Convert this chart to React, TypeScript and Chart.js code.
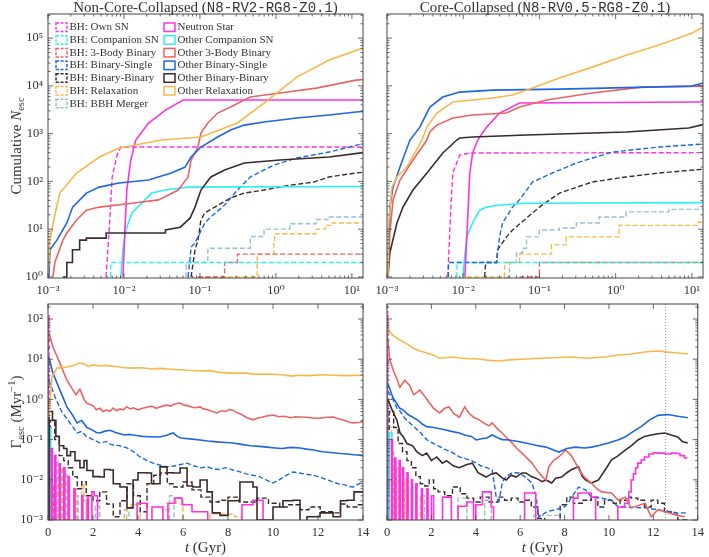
import { useEffect, useRef } from "react";
import { Chart, registerables } from "chart.js";

Chart.register(...registerables);

type Pt = [number, number];

const W = 709;
const H = 557;
const ZERO = 1e-5; // empty bin, drops below a log axis

const MAGENTA = "#FF33DD";
const CYAN = "#2EEFEF";
const RED = "#EB6464";
const BLUE = "#1E66E2";
const DARK = "#3C2A2A";
const ORANGE = "#F6B94C";
const GREYBLUE = "#98C0CE";
const TEXT = "#333333";
const AXIS = "#444444";
const SERIF = '"Liberation Serif", "DejaVu Serif", serif';
const MONO = '"Liberation Mono", "DejaVu Sans Mono", monospace';

// ---------- cumulative escapers, non-core-collapsed (t [Gyr], N) ----------
const NCC_CUM_BH_OWN: Pt[] = [[0.0058, 1], [0.0064, 10], [0.007, 124], [0.0081, 356], [0.0091, 525], [14, 525]];
const NCC_CUM_BH_COMP: Pt[] = [[0.0067, 1], [0.0067, 2], [14, 2]];
const NCC_CUM_BH_3B: Pt[] = [[0.094, 1], [0.211, 2], [0.312, 3], [14, 3]];
const NCC_CUM_BH_BS: Pt[] = [[0.0698, 1], [0.0741, 2.4], [0.0764, 4.2], [0.0861, 5.1], [0.0942, 6.9], [0.116, 13.5], [0.139, 18], [0.211, 32], [0.312, 66], [0.459, 124], [0.942, 220], [1.88, 309], [5.02, 412], [14, 620]];
const NCC_CUM_BH_BB: Pt[] = [[0.0764, 1], [0.0861, 3.7], [0.0942, 5.9], [0.103, 15.6], [0.116, 22], [0.157, 29], [0.253, 45], [0.384, 57], [0.698, 66], [1.52, 83], [3.12, 97], [5.02, 124], [11.3, 150], [14, 155]];
const NCC_CUM_BH_RELAX: Pt[] = [[0.094, 1], [0.566, 3], [0.94, 5], [0.96, 8], [3.4, 10], [4.5, 12], [5.5, 13.5], [14, 14]];
const NCC_CUM_BH_BBH: Pt[] = [[0.0658, 1], [0.0658, 2], [0.127, 4], [0.459, 7], [0.698, 10], [1.52, 13], [3.41, 16], [5.02, 18], [14, 19]];
const NCC_CUM_NS: Pt[] = [[0.0097, 1], [0.0103, 10], [0.0109, 66], [0.0123, 280], [0.0143, 735], [0.0211, 1670], [0.0351, 3120], [0.06, 5050], [14, 5050]];
const NCC_CUM_COMP: Pt[] = [[0.0091, 1], [0.0097, 3.8], [0.0106, 9.6], [0.0127, 22], [0.0171, 35], [0.0231, 57], [0.0351, 66], [0.0698, 76], [14, 78]];
const NCC_CUM_3B: Pt[] = [[0.00116, 1], [0.00123, 2], [0.00157, 5.9], [0.00177, 8.3], [0.00238, 15.6], [0.0032, 25], [0.00473, 29], [0.0127, 35], [0.0285, 41], [0.0518, 66], [0.0698, 124], [0.0764, 280], [0.0942, 525], [0.103, 1030], [0.127, 1670], [0.171, 2700], [0.253, 3600], [0.459, 5830], [1.13, 7070], [3.41, 8990], [11.3, 13200], [14, 13600]];
const NCC_CUM_BS: Pt[] = [[0.00103, 1], [0.00106, 3.7], [0.00131, 5.9], [0.00177, 13.5], [0.00211, 29], [0.0032, 57], [0.00473, 76], [0.0086, 93], [0.0211, 107], [0.042, 150], [0.0638, 200], [0.0764, 324], [0.103, 525], [0.171, 849], [0.253, 1190], [0.384, 1510], [0.698, 1750], [1.88, 2120], [5.02, 2450], [11.3, 2830], [14, 2900]];
const NCC_CUM_BB: Pt[] = [[0.00157, 1], [0.00177, 1], [0.00177, 2], [0.0021, 2], [0.0021, 3.7], [0.00261, 3.7], [0.00261, 5.9], [0.0032, 5.9], [0.0032, 6.5], [0.00583, 6.5], [0.00583, 8.3], [0.0351, 8.3], [0.0351, 9.6], [0.055, 11], [0.0741, 17], [0.0861, 29], [0.103, 66], [0.139, 124], [0.211, 173], [0.384, 243], [1.13, 280], [5.02, 324], [14, 400]];
const NCC_CUM_RELAX: Pt[] = [[0.001, 1], [0.00106, 5.9], [0.00123, 19.8], [0.00143, 57], [0.00238, 150], [0.00473, 324], [0.0086, 500], [0.0312, 735], [0.103, 849], [0.312, 1670], [0.698, 4370], [1.88, 15300], [5.02, 34700], [14, 62000]];

// ---------- cumulative escapers, core-collapsed ----------
const CC_CUM_BH_OWN: Pt[] = [[0.00627, 1], [0.00667, 9.6], [0.00708, 66], [0.0073, 150], [0.009, 356], [0.0122, 393], [14, 400]];
const CC_CUM_BH_COMP: Pt[] = [[0.0083, 1], [0.0083, 2], [14, 2]];
const CC_CUM_BH_3B: Pt[] = [[0.0548, 1], [0.1, 2], [14, 2]];
const CC_CUM_BH_BS: Pt[] = [[0.0064, 1], [0.0064, 2], [0.0274, 2], [0.0283, 3.2], [0.03, 6.9], [0.0328, 13.5], [0.0444, 29], [0.0548, 41], [0.081, 97], [0.148, 150], [0.305, 243], [0.9, 412], [3.7, 525], [14, 606]];
const CC_CUM_BH_BB: Pt[] = [[0.0191, 1], [0.0197, 2], [0.0274, 2], [0.0283, 3.7], [0.037, 6.9], [0.0444, 9.6], [0.0676, 17], [0.1, 29], [0.183, 57], [0.493, 97], [1.37, 124], [3.7, 150], [14, 180]];
const CC_CUM_BH_RELAX: Pt[] = [[0.0111, 1], [0.0349, 2], [0.055, 3], [0.144, 4.7], [0.225, 6.9], [1.11, 12], [12, 14], [14, 14]];
const CC_CUM_BH_BBH: Pt[] = [[0.037, 1], [0.0405, 2], [0.05, 3.2], [0.06, 4], [0.0676, 6.9], [0.1, 9.6], [0.183, 10.6], [0.305, 13.5], [0.608, 18], [1.37, 23], [5, 26], [14, 28]];
const CC_CUM_NS: Pt[] = [[0.0105, 1], [0.0111, 5.9], [0.0122, 150], [0.0133, 393], [0.0155, 735], [0.0203, 1370], [0.03, 2700], [0.0548, 4370], [14, 4590]];
const CC_CUM_COMP: Pt[] = [[0.00984, 1], [0.0111, 6.9], [0.0133, 13.5], [0.0164, 25], [0.0203, 29], [0.03, 32], [0.0676, 35], [14, 36]];
const CC_CUM_3B: Pt[] = [[0.00103, 1], [0.00109, 8.3], [0.0012, 41], [0.00148, 107], [0.00219, 280], [0.00334, 735], [0.00365, 1080], [0.00451, 1510], [0.0073, 2120], [0.0133, 2450], [0.037, 2700], [0.0548, 3600], [0.124, 5050], [0.493, 7070], [2.22, 9440], [14, 9900]];
const CC_CUM_BS: Pt[] = [[0.00103, 1], [0.00106, 5.9], [0.00109, 29], [0.0012, 76], [0.00148, 200], [0.002, 735], [0.0027, 1370], [0.00365, 3600], [0.0054, 5830], [0.009, 7420], [0.0243, 8170], [0.183, 8570], [10, 9900], [14, 11500]];
const CC_CUM_BB: Pt[] = [[0.00103, 1], [0.00109, 3.2], [0.00135, 13.5], [0.00162, 29], [0.00219, 66], [0.00334, 150], [0.0054, 393], [0.00822, 735], [0.009, 809], [0.0133, 849], [0.0676, 935], [1.37, 1080], [9.1, 1310], [14, 1550]];
const CC_CUM_RELAX: Pt[] = [[0.00103, 1], [0.00106, 15.6], [0.00116, 76], [0.00135, 124], [0.00182, 200], [0.00287, 735], [0.00334, 1370], [0.00451, 2700], [0.0073, 4590], [0.0243, 5560], [0.0444, 6430], [0.081, 8990], [0.183, 14600], [0.493, 24700], [1.37, 44000], [3.7, 71400], [10, 127000], [14, 170000]];

// ---------- escape rates, non-core-collapsed (t [Gyr], Myr^-1) ----------
const NCC_RATE_BH_OWN: Pt[] = [[0, 0], [0.005, 120], [0.05, 0], [14, 0]];
const NCC_RATE_BH_COMP: Pt[] = [[0, 0], [0.01, 5], [0.03, 0], [14, 0]];
const NCC_RATE_BH_3B: Pt[] = [[0, 0], [0.08, 0.02], [0.1, 0], [0.2, 0.008], [0.25, 0], [14, 0]];
const NCC_RATE_BH_BS: Pt[] = [[0.04, 3], [0.3, 1.2], [0.6, 0.5], [1.0, 0.25], [1.29, 0.146], [1.5, 0.16], [1.7, 0.12], [2.0, 0.1], [2.31, 0.082], [2.6, 0.09], [2.8, 0.075], [3.2, 0.07], [3.51, 0.062], [3.8, 0.05], [4.09, 0.037], [4.4, 0.03], [4.67, 0.026], [5.0, 0.023], [5.29, 0.021], [5.6, 0.022], [5.9, 0.024], [6.18, 0.026], [6.5, 0.022], [6.8, 0.02], [7.07, 0.021], [7.3, 0.019], [7.6, 0.018], [7.9, 0.02], [8.22, 0.0175], [8.5, 0.016], [8.8, 0.014], [9.11, 0.013], [9.4, 0.012], [9.7, 0.0099], [10.0, 0.0083], [10.2, 0.0095], [10.4, 0.011], [10.6, 0.013], [10.89, 0.0156], [11.1, 0.015], [11.4, 0.014], [11.78, 0.013], [12.0, 0.012], [12.2, 0.011], [12.45, 0.0098], [12.67, 0.0088], [12.9, 0.008], [13.2, 0.0075], [13.4, 0.0068], [13.56, 0.0066], [13.87, 0.0083], [14, 0.009]];
const NCC_RATE_BH_BB: Pt[] = [[0, 0], [0.1, 0.3], [0.3, 0.1], [0.5, 0.04], [0.7, 0.03], [0.9, 0.02], [1.1, 0.012], [1.3, 0.006], [1.5, 0.009], [1.7, 0.004], [2.0, 0.003], [2.3, 0.005], [2.6, 0.0025], [2.9, 0.0012], [3.2, 0.003], [3.51, 0.008], [3.8, 0.004], [4.1, 0.0016], [4.4, 0.008], [4.7, 0.013], [5.0, 0.0148], [5.3, 0.008], [5.6, 0.0066], [6.0, 0.0088], [6.4, 0.0056], [6.8, 0.0037], [7.2, 0.0028], [7.6, 0.0031], [8.0, 0.0037], [8.5, 0.0028], [9.3, 0.0035], [9.8, 0.0026], [10.3, 0.0021], [10.7, 0.0024], [11.2, 0.0018], [11.6, 0.0021], [12.1, 0.0016], [12.7, 0.0015], [13.0, 0.0025], [13.3, 0.0021], [13.8, 0.0024], [14, 0.0024]];
const NCC_RATE_BH_RELAX: Pt[] = [[0, 0], [0.3, 0.03], [0.35, 0], [0.6, 0.02], [0.65, 0], [0.9, 0.01], [0.95, 0], [1.2, 0.006], [1.25, 0], [1.5, 0.008], [1.6, 0.003], [1.7, 0], [3.5, 0.002], [3.7, 0.0024], [4.1, 0], [5.1, 0.0018], [5.4, 0.0026], [5.7, 0.0035], [6.0, 0], [7.2, 0.0014], [8.3, 0.0012], [8.6, 0], [14, 0]];
const NCC_RATE_BH_BBH: Pt[] = [[0, 0], [0.4, 0.03], [0.45, 0], [0.8, 0.015], [0.85, 0], [1.3, 0.004], [1.35, 0], [1.7, 0.003], [1.75, 0], [2.1, 0.0022], [2.3, 0], [3.4, 0.0018], [3.6, 0], [5.4, 0.004], [5.6, 0], [14, 0]];
const NCC_RATE_NS: Pt[] = [[0, 0], [0.15, 0.06], [0.2, 0], [0.3, 0.04], [0.35, 0], [0.5, 0.025], [0.55, 0], [0.7, 0.02], [0.75, 0], [0.9, 0.012], [0.95, 0], [1.15, 0.006], [1.2, 0], [1.5, 0.004], [1.55, 0], [1.75, 0.0035], [1.8, 0], [1.95, 0.005], [2.05, 0.004], [2.2, 0], [3.96, 0.0026], [4.4, 0], [4.62, 0.0021], [5.11, 0], [5.33, 0.0026], [5.64, 0.0035], [5.96, 0.0024], [6.4, 0.0016], [7.1, 0], [8.62, 0.0024], [9.11, 0.0031], [9.56, 0], [14, 0]];
const NCC_RATE_COMP: Pt[] = [[0, 0], [0.05, 0.2], [0.12, 0], [14, 0]];
const NCC_RATE_3B: Pt[] = [[0.04, 45], [0.22, 20], [0.53, 8], [0.84, 3], [1.11, 1.7], [1.25, 1.3], [1.42, 1.8], [1.6, 1.0], [1.73, 0.8], [2.0, 0.7], [2.15, 0.55], [2.31, 0.6], [2.45, 0.5], [2.6, 0.55], [2.75, 0.5], [2.89, 0.61], [3.05, 0.52], [3.2, 0.58], [3.35, 0.55], [3.5, 0.66], [3.65, 0.58], [3.78, 0.62], [4.0, 0.55], [4.2, 0.6], [4.4, 0.64], [4.6, 0.68], [4.8, 0.6], [4.98, 0.65], [5.15, 0.7], [5.3, 0.72], [5.45, 0.68], [5.6, 0.76], [5.87, 0.81], [6.05, 0.72], [6.2, 0.7], [6.5, 0.62], [6.76, 0.65], [6.9, 0.58], [7.1, 0.55], [7.3, 0.5], [7.51, 0.46], [7.7, 0.52], [7.9, 0.5], [8.05, 0.56], [8.22, 0.54], [8.4, 0.47], [8.6, 0.42], [8.85, 0.35], [9.11, 0.31], [9.3, 0.34], [9.5, 0.36], [9.75, 0.39], [10.0, 0.41], [10.25, 0.37], [10.5, 0.38], [10.8, 0.35], [11.0, 0.37], [11.2, 0.365], [11.5, 0.36], [11.8, 0.34], [12.09, 0.34], [12.4, 0.36], [12.67, 0.365], [12.9, 0.33], [13.2, 0.3], [13.4, 0.27], [13.56, 0.26], [13.87, 0.27], [14, 0.28]];
const NCC_RATE_BS: Pt[] = [[0.04, 11], [0.22, 4.5], [0.53, 1.7], [0.84, 0.65], [1.1, 0.4], [1.29, 0.26], [1.5, 0.3], [1.73, 0.2], [2.0, 0.17], [2.15, 0.15], [2.31, 0.146], [2.5, 0.16], [2.76, 0.17], [3.0, 0.15], [3.2, 0.14], [3.4, 0.13], [3.6, 0.135], [3.78, 0.13], [4.0, 0.125], [4.2, 0.12], [4.5, 0.118], [4.98, 0.116], [5.3, 0.13], [5.56, 0.146], [5.75, 0.12], [5.9, 0.11], [6.3, 0.104], [6.76, 0.098], [7.1, 0.092], [7.5, 0.088], [7.9, 0.085], [8.22, 0.082], [8.6, 0.076], [9.0, 0.07], [9.4, 0.068], [9.73, 0.065], [10.1, 0.062], [10.4, 0.06], [10.8, 0.064], [11.2, 0.062], [11.5, 0.058], [11.8, 0.055], [12.2, 0.05], [12.67, 0.047], [13.0, 0.045], [13.3, 0.044], [13.6, 0.042], [13.87, 0.041], [14, 0.04]];
const NCC_RATE_BB: Pt[] = [[0, 0], [0.05, 0.5], [0.2, 0.3], [0.35, 0.12], [0.5, 0.07], [0.7, 0.06], [0.84, 0.04], [1.0, 0.05], [1.2, 0.03], [1.42, 0.02], [1.6, 0.03], [1.73, 0.017], [2.0, 0.012], [2.31, 0.0117], [2.5, 0.018], [2.76, 0.0175], [2.9, 0.008], [3.2, 0.0066], [3.51, 0.002], [3.78, 0.0099], [4.0, 0.015], [4.4, 0.0148], [4.6, 0.008], [4.98, 0.021], [5.29, 0.015], [5.56, 0.0148], [5.87, 0.0197], [6.18, 0.007], [6.44, 0.0066], [6.76, 0.0099], [7.07, 0.005], [7.3, 0.0015], [7.64, 0.0013], [8.0, 0.003], [8.22, 0.003], [8.53, 0.0088], [9.11, 0.0066], [9.29, 0.001], [9.6, 0.001], [10.0, 0.0021], [10.44, 0.003], [10.89, 0.0031], [11.2, 0.0009], [11.51, 0.0012], [12.09, 0.0015], [12.67, 0.0012], [13.0, 0.003], [13.29, 0.0031], [13.6, 0.005], [14, 0.005]];
const NCC_RATE_RELAX: Pt[] = [[0.04, 0.36], [0.18, 3.6], [0.4, 6.0], [0.84, 6.4], [1.1, 7.0], [1.42, 8.0], [1.6, 7.6], [1.8, 6.6], [2.0, 7.2], [2.31, 6.8], [2.6, 7.0], [3.0, 6.6], [3.3, 6.2], [3.78, 6.0], [4.2, 6.1], [4.6, 5.7], [5.0, 5.9], [5.29, 5.7], [6.0, 5.4], [6.76, 5.1], [7.2, 5.2], [7.6, 4.7], [8.22, 4.5], [8.8, 4.5], [9.2, 4.2], [9.73, 4.3], [10.4, 4.1], [10.8, 3.8], [11.2, 4.0], [11.6, 3.9], [12.2, 4.1], [12.67, 4.0], [13.2, 3.9], [14, 4.0]];

// ---------- escape rates, core-collapsed ----------
const CC_RATE_BH_OWN: Pt[] = [[0, 0], [0.005, 150], [0.04, 0], [14, 0]];
const CC_RATE_BH_COMP: Pt[] = [[0, 0], [0.01, 3], [0.03, 0], [14, 0]];
const CC_RATE_BH_3B: Pt[] = [[0, 0], [0.05, 0.05], [0.1, 0], [14, 0]];
const CC_RATE_BH_BS: Pt[] = [[0.04, 1.6], [0.27, 1.0], [0.45, 0.6], [0.6, 0.5], [0.8, 0.34], [1.03, 0.26], [1.25, 0.2], [1.5, 0.15], [1.65, 0.12], [1.79, 0.1], [2.0, 0.085], [2.3, 0.07], [2.5, 0.062], [2.68, 0.055], [3.0, 0.046], [3.26, 0.037], [3.5, 0.034], [3.8, 0.03], [4.02, 0.026], [4.25, 0.022], [4.5, 0.02], [4.74, 0.0175], [4.92, 0.0037], [5.05, 0.003], [5.2, 0.0088], [5.37, 0.012], [5.64, 0.015], [5.95, 0.0148], [6.2, 0.012], [6.53, 0.0083], [6.71, 0.004], [6.84, 0.0012], [7.2, 0.0016], [7.74, 0.0019], [8.05, 0.0022], [8.32, 0.0037], [8.63, 0.0066], [8.94, 0.0056], [9.21, 0.0037], [9.53, 0.0036], [10.11, 0.0031], [10.42, 0.0021], [11.63, 0.002], [12.21, 0.0018], [12.8, 0.0016], [13.1, 0.0015], [13.46, 0.0015]];
const CC_RATE_BH_BB: Pt[] = [[0, 0], [0.1, 0.5], [0.3, 0.2], [0.5, 0.08], [0.7, 0.05], [0.9, 0.03], [1.1, 0.02], [1.3, 0.012], [1.5, 0.008], [1.7, 0.007], [1.9, 0.0099], [2.1, 0.006], [2.3, 0.005], [2.6, 0.004], [2.95, 0.0066], [3.3, 0.0045], [3.6, 0.0035], [3.9, 0.0028], [4.2, 0.0037], [4.6, 0.0028], [5.0, 0.0037], [5.3, 0.0031], [5.6, 0.0035], [5.9, 0.0028], [6.2, 0.0031], [6.5, 0.0021], [6.8, 0.0011], [7.1, 0], [7.8, 0.0024], [8.1, 0.0037], [8.4, 0.0026], [8.8, 0.0031], [9.2, 0.0037], [9.5, 0.0021], [9.8, 0.0031], [10.2, 0.0026], [10.5, 0.0031], [10.8, 0.0037], [11.0, 0.0035], [11.3, 0.0031], [11.6, 0.0021], [11.9, 0.0031], [12.2, 0.0026], [12.5, 0.0016], [12.8, 0.0014], [13.1, 0.001], [13.5, 0]];
const CC_RATE_BH_RELAX: Pt[] = [[0, 0], [0.1, 0.2], [0.2, 0.05], [0.3, 0], [0.5, 0.02], [0.55, 0], [0.8, 0.01], [0.85, 0], [1.1, 0.006], [1.15, 0], [1.5, 0.004], [1.55, 0], [14, 0]];
const CC_RATE_BH_BBH: Pt[] = [[0, 0], [0.4, 0.02], [0.45, 0], [0.9, 0.008], [0.95, 0], [1.6, 0.004], [1.7, 0], [3.2, 0.0035], [3.6, 0], [4.4, 0.0031], [4.7, 0], [6.6, 0.0013], [7.8, 0], [14, 0]];
const CC_RATE_NS: Pt[] = [[0, 0], [0.2, 0.1], [0.25, 0], [0.35, 0.035], [0.4, 0], [0.55, 0.03], [0.6, 0], [0.7, 0.02], [0.75, 0], [0.9, 0.015], [0.95, 0], [1.1, 0.01], [1.15, 0], [1.3, 0.008], [1.35, 0], [1.55, 0.006], [1.6, 0], [1.8, 0.006], [1.85, 0], [2.0, 0.004], [2.1, 0], [2.5, 0.0037], [2.9, 0], [3.2, 0.0022], [3.6, 0.0028], [3.9, 0], [4.0, 0.0024], [4.3, 0.005], [4.7, 0.0021], [4.8, 0], [6.2, 0.0047], [6.7, 0], [8.4, 0.0035], [8.6, 0.0047], [9.2, 0.0037], [9.4, 0], [10.4, 0.0021], [10.7, 0.0026], [10.9, 0.005], [11.0, 0.0099], [11.1, 0.014], [11.2, 0.02], [11.3, 0.026], [11.45, 0.031], [11.6, 0.037], [11.8, 0.044], [12.0, 0.047], [12.2, 0.046], [12.5, 0.044], [12.8, 0.046], [13.0, 0.045], [13.2, 0.04], [13.4, 0.035], [13.5, 0.034]];
const CC_RATE_COMP: Pt[] = [[0, 0], [0.1, 0.15], [0.22, 0], [14, 0]];
const CC_RATE_3B: Pt[] = [[0.04, 30], [0.13, 9.5], [0.3, 5], [0.45, 3.2], [0.58, 2.0], [0.8, 3.0], [1.03, 2.2], [1.2, 1.3], [1.48, 1.7], [1.7, 1.2], [1.92, 0.8], [2.1, 0.6], [2.37, 0.46], [2.6, 0.6], [2.8, 0.65], [3.0, 0.45], [3.26, 0.36], [3.5, 0.65], [3.7, 0.45], [3.9, 0.36], [4.16, 0.31], [4.4, 0.25], [4.6, 0.22], [4.74, 0.26], [5.0, 0.18], [5.19, 0.146], [5.4, 0.11], [5.64, 0.082], [5.85, 0.06], [6.08, 0.046], [6.3, 0.035], [6.53, 0.026], [6.8, 0.016], [7.0, 0.012], [7.16, 0.0099], [7.29, 0.021], [7.5, 0.03], [7.74, 0.037], [8.05, 0.055], [8.3, 0.04], [8.5, 0.026], [8.7, 0.016], [8.94, 0.011], [9.21, 0.0083], [9.45, 0.006], [9.66, 0.005], [10.11, 0.0047], [10.42, 0.0031], [10.73, 0.0037], [11.0, 0.002], [11.63, 0.0026], [11.9, 0.0012], [12.21, 0.0018], [12.52, 0.0016], [13.1, 0.0013], [13.42, 0.0012]];
const CC_RATE_BS: Pt[] = [[0.04, 2.5], [0.27, 1.1], [0.58, 0.6], [0.72, 0.55], [0.95, 0.42], [1.16, 0.36], [1.4, 0.3], [1.6, 0.24], [1.79, 0.21], [2.1, 0.2], [2.5, 0.18], [2.9, 0.16], [3.26, 0.146], [3.5, 0.13], [3.8, 0.12], [4.02, 0.098], [4.25, 0.105], [4.5, 0.11], [4.74, 0.13], [5.0, 0.11], [5.2, 0.1], [5.5, 0.098], [5.9, 0.09], [6.26, 0.082], [6.7, 0.072], [7.16, 0.065], [7.5, 0.055], [7.74, 0.049], [8.1, 0.06], [8.5, 0.065], [8.9, 0.062], [9.21, 0.065], [9.6, 0.072], [9.97, 0.082], [10.4, 0.098], [10.73, 0.116], [11.1, 0.16], [11.45, 0.21], [11.8, 0.3], [12.21, 0.4], [12.66, 0.42], [13.1, 0.38], [13.55, 0.35]];
const CC_RATE_BB: Pt[] = [[0.04, 1.0], [0.2, 0.6], [0.45, 0.3], [0.58, 0.15], [0.72, 0.12], [0.9, 0.08], [1.16, 0.07], [1.34, 0.05], [1.6, 0.04], [1.79, 0.046], [2.0, 0.03], [2.24, 0.037], [2.5, 0.026], [2.68, 0.03], [3.0, 0.022], [3.26, 0.02], [3.6, 0.024], [3.85, 0.026], [4.1, 0.015], [4.47, 0.0117], [4.7, 0.014], [4.92, 0.0148], [5.2, 0.011], [5.37, 0.0099], [5.6, 0.013], [5.81, 0.0117], [6.08, 0.0148], [6.26, 0.0148], [6.5, 0.012], [6.71, 0.011], [7.0, 0.009], [7.16, 0.0099], [7.42, 0.0083], [7.6, 0.011], [7.87, 0.0117], [8.1, 0.015], [8.32, 0.018], [8.63, 0.021], [8.8, 0.012], [8.94, 0.0099], [9.21, 0.0083], [9.53, 0.0099], [9.84, 0.018], [10.11, 0.031], [10.42, 0.04], [10.73, 0.055], [11.0, 0.07], [11.31, 0.098], [11.6, 0.12], [11.9, 0.13], [12.21, 0.14], [12.52, 0.146], [12.8, 0.13], [13.1, 0.116], [13.3, 0.09], [13.55, 0.082]];
const CC_RATE_RELAX: Pt[] = [[0.04, 60], [0.13, 47], [0.3, 38], [0.58, 30], [0.9, 24], [1.16, 19], [1.5, 16], [1.79, 14.3], [2.1, 12.5], [2.37, 10.6], [2.7, 11], [3.0, 11.3], [3.26, 10.7], [3.6, 10.4], [4.16, 10.1], [4.5, 9.5], [5.05, 9], [5.5, 9.6], [6.26, 10.1], [7.16, 10.7], [7.8, 11], [8.32, 11.3], [8.9, 10.7], [9.21, 10.7], [9.8, 11.3], [10.42, 12.7], [11.0, 13.5], [11.31, 14.3], [11.8, 15.5], [12.21, 16], [12.66, 15], [13.1, 14.3], [13.55, 13.5]];

const CC_CORE_TIME = 12.55; // dotted marker in the lower right panel
const T_TICKS = [0, 2, 4, 6, 8, 10, 12, 14];

type Key = "bhOwn" | "bhComp" | "bh3b" | "bhBs" | "bhBb" | "bhRelax" | "bhBbh" | "ns" | "comp" | "tb" | "bs" | "bb" | "relax";

const SERIES: Record<Key, { label: string; color: string; dashed: boolean }> = {
  bhOwn: { label: "BH: Own SN", color: MAGENTA, dashed: true },
  bhComp: { label: "BH: Companion SN", color: CYAN, dashed: true },
  bh3b: { label: "BH: 3-Body Binary", color: RED, dashed: true },
  bhBs: { label: "BH: Binary-Single", color: BLUE, dashed: true },
  bhBb: { label: "BH: Binary-Binary", color: DARK, dashed: true },
  bhRelax: { label: "BH: Relaxation", color: ORANGE, dashed: true },
  bhBbh: { label: "BH: BBH Merger", color: GREYBLUE, dashed: true },
  ns: { label: "Neutron Star", color: MAGENTA, dashed: false },
  comp: { label: "Other Companion SN", color: CYAN, dashed: false },
  tb: { label: "Other 3-Body Binary", color: RED, dashed: false },
  bs: { label: "Other Binary-Single", color: BLUE, dashed: false },
  bb: { label: "Other Binary-Binary", color: DARK, dashed: false },
  relax: { label: "Other Relaxation", color: ORANGE, dashed: false },
};
const LEGEND_BH: Key[] = ["bhOwn", "bhComp", "bh3b", "bhBs", "bhBb", "bhRelax", "bhBbh"];
const LEGEND_OTHER: Key[] = ["ns", "comp", "tb", "bs", "bb", "relax"];
const DRAW_ORDER: Key[] = ["relax", "bs", "tb", "bb", "ns", "comp", "bhBs", "bhBb", "bhOwn", "bhComp", "bh3b", "bhRelax", "bhBbh"];

const NCC_CUM: Record<Key, Pt[]> = {
  bhOwn: NCC_CUM_BH_OWN, bhComp: NCC_CUM_BH_COMP, bh3b: NCC_CUM_BH_3B, bhBs: NCC_CUM_BH_BS, bhBb: NCC_CUM_BH_BB,
  bhRelax: NCC_CUM_BH_RELAX, bhBbh: NCC_CUM_BH_BBH, ns: NCC_CUM_NS, comp: NCC_CUM_COMP, tb: NCC_CUM_3B,
  bs: NCC_CUM_BS, bb: NCC_CUM_BB, relax: NCC_CUM_RELAX,
};
const CC_CUM: Record<Key, Pt[]> = {
  bhOwn: CC_CUM_BH_OWN, bhComp: CC_CUM_BH_COMP, bh3b: CC_CUM_BH_3B, bhBs: CC_CUM_BH_BS, bhBb: CC_CUM_BH_BB,
  bhRelax: CC_CUM_BH_RELAX, bhBbh: CC_CUM_BH_BBH, ns: CC_CUM_NS, comp: CC_CUM_COMP, tb: CC_CUM_3B,
  bs: CC_CUM_BS, bb: CC_CUM_BB, relax: CC_CUM_RELAX,
};
const NCC_RATE: Record<Key, Pt[]> = {
  bhOwn: NCC_RATE_BH_OWN, bhComp: NCC_RATE_BH_COMP, bh3b: NCC_RATE_BH_3B, bhBs: NCC_RATE_BH_BS, bhBb: NCC_RATE_BH_BB,
  bhRelax: NCC_RATE_BH_RELAX, bhBbh: NCC_RATE_BH_BBH, ns: NCC_RATE_NS, comp: NCC_RATE_COMP, tb: NCC_RATE_3B,
  bs: NCC_RATE_BS, bb: NCC_RATE_BB, relax: NCC_RATE_RELAX,
};
const CC_RATE: Record<Key, Pt[]> = {
  bhOwn: CC_RATE_BH_OWN, bhComp: CC_RATE_BH_COMP, bh3b: CC_RATE_BH_3B, bhBs: CC_RATE_BH_BS, bhBb: CC_RATE_BH_BB,
  bhRelax: CC_RATE_BH_RELAX, bhBbh: CC_RATE_BH_BBH, ns: CC_RATE_NS, comp: CC_RATE_COMP, tb: CC_RATE_3B,
  bs: CC_RATE_BS, bb: CC_RATE_BB, relax: CC_RATE_RELAX,
};
const CUM_STEPPED: Key[] = ["bhComp", "bh3b", "bhRelax", "bhBbh"];
const NCC_RATE_STEPPED: Key[] = ["bhOwn", "bhComp", "bh3b", "bhBb", "bhRelax", "bhBbh", "ns", "comp", "bb"];
const CC_RATE_STEPPED: Key[] = ["bhOwn", "bhComp", "bh3b", "bhBb", "bhRelax", "bhBbh", "ns", "comp"];

// ---------- helpers ----------
type Run = { text: string; font: string; dy?: number };
const f = (size: number, family = SERIF, italic = false) => `${italic ? "italic " : ""}${size}px ${family}`;

const SUP: Record<string, string> = { "-": "⁻", "0": "⁰", "1": "¹", "2": "²", "3": "³", "4": "⁴", "5": "⁵" };
function decadeLabel(v: number) {
  const e = Math.round(Math.log10(v));
  if (Math.abs(v / Math.pow(10, e) - 1) > 1e-6) return "";
  return "10" + String(e).split("").map((c) => SUP[c]).join("");
}
function logTicks(min: number, max: number) {
  const out: { v: number; major: boolean }[] = [];
  for (let e = Math.floor(Math.log10(min)); e <= Math.ceil(Math.log10(max)); e++) {
    for (let m = 1; m <= 9; m++) {
      const v = m * Math.pow(10, e);
      if (v >= min * 0.9999 && v <= max * 1.0001) out.push({ v, major: m === 1 });
    }
  }
  return out;
}
function drawRuns(ctx: CanvasRenderingContext2D, runs: Run[], cx: number, y: number) {
  let w = 0;
  for (const r of runs) { ctx.font = r.font; w += ctx.measureText(r.text).width; }
  let x = cx - w / 2;
  for (const r of runs) {
    ctx.font = r.font;
    ctx.fillText(r.text, x, y + (r.dy || 0));
    x += ctx.measureText(r.text).width;
  }
}

type Decor = { title?: Run[]; yTitle?: Run[]; xTitle?: Run[]; legend?: boolean; vline?: number };

function decorPlugin(spec: Decor) {
  return {
    id: "decor",
    afterDraw(chart: any) {
      const ctx: CanvasRenderingContext2D = chart.ctx;
      const a = chart.chartArea;
      const xs = chart.scales.x;
      const ys = chart.scales.y;
      ctx.save();
      if (spec.vline !== undefined) {
        const px = xs.getPixelForValue(spec.vline);
        ctx.strokeStyle = "#777";
        ctx.lineWidth = 0.8;
        ctx.setLineDash([1, 2]);
        ctx.beginPath(); ctx.moveTo(px, a.top); ctx.lineTo(px, a.bottom); ctx.stroke();
        ctx.setLineDash([]);
      }
      ctx.strokeStyle = AXIS;
      ctx.lineWidth = 0.8;
      const xt = xs.type === "logarithmic" ? logTicks(xs.min, xs.max) : T_TICKS.map((v) => ({ v, major: true }));
      ctx.beginPath();
      for (const t of xt) {
        const p = xs.getPixelForValue(t.v);
        const L = t.major ? 5 : 2.5;
        ctx.moveTo(p, a.bottom); ctx.lineTo(p, a.bottom - L);
        ctx.moveTo(p, a.top); ctx.lineTo(p, a.top + L);
      }
      for (const t of logTicks(ys.min, ys.max)) {
        const p = ys.getPixelForValue(t.v);
        const L = t.major ? 5 : 2.5;
        ctx.moveTo(a.left, p); ctx.lineTo(a.left + L, p);
        ctx.moveTo(a.right, p); ctx.lineTo(a.right - L, p);
      }
      ctx.stroke();
      ctx.lineWidth = 1;
      ctx.strokeRect(a.left, a.top, a.right - a.left, a.bottom - a.top);

      ctx.fillStyle = TEXT;
      ctx.textBaseline = "alphabetic";
      ctx.textAlign = "left";
      const cx = (a.left + a.right) / 2;
      if (spec.title) drawRuns(ctx, spec.title, cx, 12);
      if (spec.xTitle) drawRuns(ctx, spec.xTitle, cx, 552);
      if (spec.yTitle) {
        ctx.save();
        ctx.translate(16, (a.top + a.bottom) / 2);
        ctx.rotate(-Math.PI / 2);
        drawRuns(ctx, spec.yTitle, 0, 5);
        ctx.restore();
      }
      if (spec.legend) {
        const cols: [Key[], number][] = [[LEGEND_BH, 56], [LEGEND_OTHER, 164]];
        for (const [keys, x0] of cols) {
          keys.forEach((k, i) => {
            const s = SERIES[k];
            const y = 27 + i * 12.7;
            ctx.strokeStyle = s.color;
            ctx.lineWidth = 1.5;
            ctx.setLineDash(s.dashed ? [3, 1.6] : []);
            ctx.strokeRect(x0, y - 4, 11, 8.5);
            ctx.setLineDash([]);
            ctx.fillStyle = TEXT;
            ctx.font = f(11);
            ctx.textBaseline = "middle";
            ctx.fillText(s.label, x0 + 13.5, y + 0.5);
          });
        }
      }
      ctx.restore();
    },
  };
}

type Area = { left: number; top: number; right: number; bottom: number };
const Y_AXIS_W = 40;
const X_AXIS_H = 22;
const TICK_FONT = { family: SERIF, size: 12.5 };

function axis(kind: "log" | "lin", min: number, max: number, show: boolean) {
  return {
    type: kind === "log" ? "logarithmic" : "linear",
    min,
    max,
    display: show,
    afterBuildTicks: (s: any) => {
      s.ticks = kind === "log" ? logTicks(s.min, s.max).map((t) => ({ value: t.v })) : T_TICKS.map((v) => ({ value: v }));
    },
    afterFit: (s: any) => {
      if (!show) return;
      if (s.isHorizontal()) s.height = X_AXIS_H;
      else s.width = Y_AXIS_W;
    },
    grid: { display: false, drawTicks: false },
    border: { display: false },
    ticks: {
      autoSkip: false,
      maxRotation: 0,
      padding: 5,
      color: TEXT,
      font: TICK_FONT,
      callback: (v: any) => (kind === "log" ? decadeLabel(Number(v)) : String(v)),
    },
  };
}

function Panel(props: {
  area: Area;
  xKind: "log" | "lin";
  xRange: [number, number];
  yRange: [number, number];
  yLabels: boolean;
  data: Record<Key, Pt[]>;
  stepped: Key[];
  decor: Decor;
}) {
  const ref = useRef<HTMLCanvasElement>(null);
  useEffect(() => {
    if (!ref.current) return;
    const { area, xKind, xRange, yRange, yLabels, data, stepped, decor } = props;
    const yW = yLabels ? Y_AXIS_W : 0;
    const chart = new Chart(ref.current, {
      type: "line",
      data: {
        datasets: DRAW_ORDER.map((k) => {
          const s = SERIES[k];
          return {
            label: s.label,
            data: data[k].map(([x, y]) => ({ x, y: y > 0 ? y : ZERO })),
            borderColor: s.color,
            backgroundColor: s.color,
            borderWidth: s.dashed ? 1.4 : 1.6,
            borderDash: s.dashed ? [5, 2.5] : [],
            pointRadius: 0,
            tension: 0,
            fill: false,
            stepped: stepped.includes(k) ? "before" : false,
          };
        }),
      },
      options: {
        animation: false,
        responsive: false,
        events: [],
        layout: {
          padding: { left: area.left - yW, top: area.top, right: W - area.right, bottom: H - area.bottom - X_AXIS_H },
        },
        plugins: { legend: { display: false }, tooltip: { enabled: false } },
        scales: {
          x: axis(xKind, xRange[0], xRange[1], true),
          y: axis("log", yRange[0], yRange[1], yLabels),
        },
      } as any,
      plugins: [decorPlugin(decor)],
    } as any);
    return () => chart.destroy();
  }, []);
  return <canvas ref={ref} width={W} height={H} style={{ position: "absolute", left: 0, top: 0 }} />;
}

const CUM_Y: [number, number] = [0.95, 3.2e5];
const RATE_Y: [number, number] = [1e-3, 236];
const CUM_X: [number, number] = [1e-3, 14];
const RATE_X: [number, number] = [0, 14];

const Y_TITLE_CUM: Run[] = [
  { text: "Cumulative ", font: f(15) },
  { text: "N", font: f(15, SERIF, true) },
  { text: "esc", font: f(10.5), dy: 3 },
];
const Y_TITLE_RATE: Run[] = [
  { text: "Γ", font: f(15) },
  { text: "esc", font: f(10.5), dy: 3 },
  { text: " (Myr", font: f(15) },
  { text: "−1", font: f(10.5), dy: -6 },
  { text: ")", font: f(15) },
];
const X_TITLE: Run[] = [
  { text: "t", font: f(15, SERIF, true) },
  { text: " (Gyr)", font: f(15) },
];
const TITLE_NCC: Run[] = [
  { text: "Non-Core-Collapsed (", font: f(15) },
  { text: "N8-RV2-RG8-Z0.1", font: f(14, MONO) },
  { text: ")", font: f(15) },
];
const TITLE_CC: Run[] = [
  { text: "Core-Collapsed (", font: f(15) },
  { text: "N8-RV0.5-RG8-Z0.1", font: f(14, MONO) },
  { text: ")", font: f(15) },
];

export default function App() {
  return (
    <div style={{ position: "fixed", left: 0, top: 0, width: W, height: H, background: "#fff" }}>
      <Panel
        area={{ left: 48, top: 14, right: 363, bottom: 278 }}
        xKind="log" xRange={CUM_X} yRange={CUM_Y} yLabels
        data={NCC_CUM} stepped={CUM_STEPPED}
        decor={{ title: TITLE_NCC, yTitle: Y_TITLE_CUM, legend: true }}
      />
      <Panel
        area={{ left: 387, top: 14, right: 703, bottom: 278 }}
        xKind="log" xRange={CUM_X} yRange={CUM_Y} yLabels={false}
        data={CC_CUM} stepped={CUM_STEPPED}
        decor={{ title: TITLE_CC }}
      />
      <Panel
        area={{ left: 48, top: 304, right: 363, bottom: 520 }}
        xKind="lin" xRange={RATE_X} yRange={RATE_Y} yLabels
        data={NCC_RATE} stepped={NCC_RATE_STEPPED}
        decor={{ yTitle: Y_TITLE_RATE, xTitle: X_TITLE }}
      />
      <Panel
        area={{ left: 387, top: 304, right: 701, bottom: 520 }}
        xKind="lin" xRange={RATE_X} yRange={RATE_Y} yLabels={false}
        data={CC_RATE} stepped={CC_RATE_STEPPED}
        decor={{ xTitle: X_TITLE, vline: CC_CORE_TIME }}
      />
    </div>
  );
}
